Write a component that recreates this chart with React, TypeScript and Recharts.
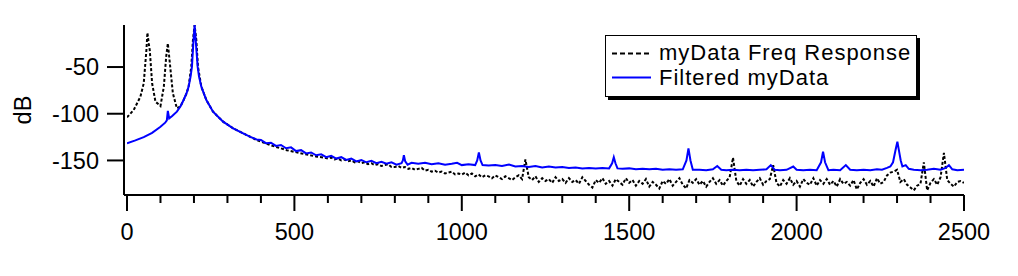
import React from 'react';
import { LineChart, Line, XAxis, YAxis, Legend } from 'recharts';

// myData Freq Response (dotted black): low-frequency part, hand-read points
const rawFreqLow = [0, 20, 40, 50, 55, 58, 61, 65, 68, 75, 85, 100, 110, 117, 122, 129, 137, 149, 160, 169, 178, 184, 192, 197, 202, 207, 212, 222, 237, 257, 287, 317, 347, 387, 427, 477, 527, 568, 590];
const rawDbLow = [-103.8, -96, -81.8, -67.4, -45, -31.8, -13.2, -25, -31.8, -67.4, -87.1, -91.7, -71, -39, -24.6, -49.6, -78.1, -94.2, -92, -85.3, -78, -71, -49.6, -21, -5, -21, -49.6, -71, -85.3, -97.8, -108.5, -115.6, -121, -128.1, -133.5, -139, -143, -146, -147];

// myData Freq Response: noisy part, one value every 10 Hz from 600 to 2500
const rawDbNoise = [
  -148, -147, -149, -148, -150, -149, -151, -150, -152, -151,
  -153, -152, -154, -153, -155, -154, -156, -155, -154, -157,
  -157, -156, -158, -157, -159, -158, -160, -159, -158, -161,
  -160, -162, -161, -163, -162, -164, -163, -162, -165, -164,
  -165, -163, -166, -164, -167, -165, -168, -166, -167, -169,
  -166, -168, -170, -167, -169, -171, -168, -166, -170, -149,
  -168, -171, -167, -173, -169, -172, -170, -174, -168, -172,
  -170, -174, -169, -173, -171, -175, -168, -172, -176, -179,
  -171, -174, -169, -175, -172, -177, -170, -173, -176, -169,
  -174, -171, -177, -172, -175, -170, -178, -173, -176, -180,
  -172, -175, -170, -177, -173, -169, -176, -180, -171, -174,
  -170, -176, -172, -178, -173, -169, -175, -171, -177, -172,
  -168, -147, -172, -177, -170, -175, -171, -178, -173, -169,
  -176, -172, -170, -155, -174, -178, -171, -175, -169, -176,
  -172, -178, -170, -174, -176, -169, -177, -171, -175, -170,
  -176, -172, -178, -170, -175, -173, -177, -171, -181, -174,
  -170, -176, -172, -178, -169, -175, -173, -166, -163, -162,
  -160, -173, -170, -176, -179, -182, -177, -175, -152, -182,
  -174, -170, -176, -168, -142, -171, -175, -178, -173, -172,
  -174,
];
const rawFreqNoise = rawDbNoise.map((_, i) => 600 + i * 10);

// Filtered myData (solid blue)
const filtFreq = [
  0, 25, 50, 75, 100, 114, 119, 122, 126, 135, 149, 160, 169, 178, 184, 190, 194, 198, 202, 206, 211, 215, 222, 237, 257, 287, 317, 347, 370, 387,
  400, 415, 430, 445, 460, 475, 490, 505, 520, 535, 550, 565, 580, 595, 610, 625, 640, 655, 670, 685, 700, 715, 730, 745, 760, 775, 790, 805, 820, 824, 827, 831, 838,
  850, 870, 890, 910, 930, 950, 970, 986, 1000, 1020, 1040, 1046, 1051, 1056, 1062, 1080, 1100, 1120, 1141, 1160, 1180, 1200, 1220, 1240, 1260, 1280, 1300,
  1320, 1340, 1360, 1380, 1400, 1420, 1440, 1449, 1454, 1459, 1465, 1480, 1500, 1520, 1540, 1560, 1580, 1600, 1620, 1640, 1660, 1671, 1677, 1683, 1690,
  1710, 1730, 1750, 1763, 1775, 1790, 1810, 1830, 1850, 1870, 1890, 1910, 1923, 1935, 1950, 1970, 1990, 2000, 2020, 2040, 2060, 2073, 2079, 2085, 2095,
  2110, 2130, 2147, 2160, 2180, 2200, 2220, 2240, 2255, 2270, 2280, 2288, 2296, 2301, 2306, 2311, 2316, 2326, 2335, 2350, 2370, 2390, 2410, 2430, 2445,
  2455, 2465, 2480, 2500,
];
const filtDb = [
  -131.7, -128.5, -125, -120.5, -114, -109.6, -107, -97, -105, -102.5, -97.8, -92, -85.3, -78, -71, -60, -49.6, -25, -5, -25, -49.6, -60, -71, -85.3, -97.8, -108.5, -115.6, -121, -125, -127.5,
  -128, -131.5, -131, -134.5, -133.5, -137, -136, -140, -139, -142.5, -141.5, -144.5, -143.5, -146.5, -145, -148, -146.5, -149.5, -148, -151, -149.5, -152, -150.5, -153, -151.5, -153.5, -152, -154.5, -153, -150, -144.5, -151, -154.5,
  -152.5, -153.5, -152.5, -154, -153, -154.5, -153.5, -152.5, -155, -154, -155, -150, -141.5, -150, -155, -155.5, -155, -156, -154.5, -156.5, -156, -157, -156, -157.5, -156.5, -157.5, -157,
  -158, -157.5, -158.5, -158, -158.5, -158, -158.5, -153, -146.5, -153, -158.5, -159, -158.5, -159.5, -159, -159.5, -159, -160, -159.5, -160, -159.5, -150, -137, -150, -160,
  -160, -160.5, -159.5, -156, -160, -160.5, -160, -160.5, -160, -160.5, -160, -159.5, -155, -160, -160.5, -160, -156.5, -160, -160.5, -160, -160.5, -152, -140.5, -152, -160.5,
  -160, -160.5, -155, -160, -160.5, -160, -160.5, -159.5, -160, -158, -156.5, -152, -138, -130, -140, -150, -156.5, -155, -159, -160, -160.5, -160, -159, -160, -158,
  -155, -159.5, -160.5, -160,
];

const yTicks = [-150, -100, -50];
const xTicks = [0, 100, 200, 300, 400, 500, 600, 700, 800, 900, 1000, 1100, 1200, 1300, 1400, 1500, 1600, 1700, 1800, 1900, 2000, 2100, 2200, 2300, 2400, 2500];

const rawData = [...rawFreqLow, ...rawFreqNoise].map((f, i) => ({
  f,
  db: i < rawDbLow.length ? rawDbLow[i] : rawDbNoise[i - rawDbLow.length],
}));
const filtData = filtFreq.map((f, i) => ({ f, db: filtDb[i] }));

const FONT = '"Liberation Sans", Arial, Helvetica, sans-serif';

function FreqTick(props: any) {
  const { x, y, payload } = props;
  const major = payload.value % 500 === 0;
  return (
    <g>
      <line x1={x} x2={x} y1={y} y2={y + (major ? 16 : 8)} stroke="#000" strokeWidth={2} />
      {major && (
        <text x={x} y={y + 45} textAnchor="middle" fontSize={23.5} fontFamily={FONT} fill="#000">
          {payload.value}
        </text>
      )}
    </g>
  );
}

function LegendBox() {
  return (
    <div
      style={{
        width: 310,
        height: 60,
        background: '#fff',
        border: '1px solid #000',
        boxShadow: '3px 3px 0 #000',
        position: 'relative',
      }}
    >
      <svg width={310} height={60} style={{ position: 'absolute', left: 0, top: 0 }}>
        <line x1={6} x2={45} y1={17.5} y2={17.5} stroke="#000" strokeWidth={2} strokeDasharray="5 3" />
        <line x1={6} x2={45} y1={41.5} y2={41.5} stroke="#0000ff" strokeWidth={2} />
        <text x={53} y={23.5} fontSize={22} letterSpacing={1} fontFamily={FONT} fill="#000">myData Freq Response</text>
        <text x={53} y={48.5} fontSize={22} letterSpacing={1} fontFamily={FONT} fill="#000">Filtered myData</text>
      </svg>
    </div>
  );
}

export default function App() {
  return (
    <div style={{ position: 'absolute', left: 0, top: 0, width: 1018, height: 276, background: '#fff' }}>
      <LineChart width={1018} height={276} margin={{ top: 25, right: 54, bottom: 0, left: 0 }}>
        <XAxis
          dataKey="f"
          type="number"
          domain={[0, 2500]}
          ticks={xTicks}
          interval={0}
          padding={{ left: 3, right: 0 }}
          height={81}
          tickSize={0}
          tickMargin={0}
          tickLine={false}
          axisLine={{ stroke: '#000', strokeWidth: 2 }}
          tick={<FreqTick />}
          allowDataOverflow
        />
        <YAxis
          type="number"
          domain={[-187, -5]}
          ticks={yTicks}
          width={124}
          tickSize={17}
          tickMargin={8}
          axisLine={{ stroke: '#000', strokeWidth: 2 }}
          tickLine={{ stroke: '#000', strokeWidth: 2 }}
          tick={{ fontSize: 23.5, fontFamily: FONT, fill: '#000' }}
          allowDataOverflow
          label={{
            content: () => (
              <text x={31} y={110} transform="rotate(-90 31 110)" textAnchor="middle" fontSize={23.5} fontFamily={FONT} fill="#000">
                dB
              </text>
            ),
          }}
        />
        <Legend
          layout="horizontal"
          verticalAlign="middle"
          align="center"
          wrapperStyle={{ left: 605, top: 35, width: 'auto', height: 'auto' }}
          content={() => <LegendBox />}
        />
        <Line
          data={rawData}
          dataKey="db"
          type="linear"
          stroke="#000"
          strokeWidth={2}
          strokeDasharray="3 2"
          dot={false}
          isAnimationActive={false}
        />
        <Line
          data={filtData}
          dataKey="db"
          type="linear"
          stroke="#0000ff"
          strokeWidth={2}
          dot={false}
          isAnimationActive={false}
        />
      </LineChart>
    </div>
  );
}
